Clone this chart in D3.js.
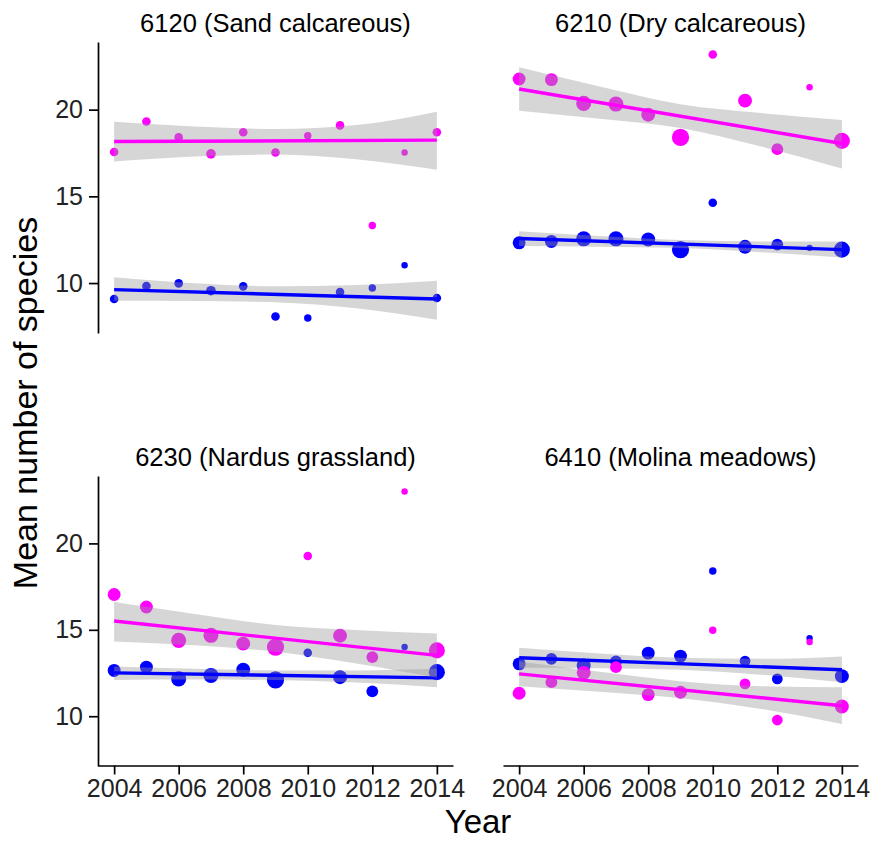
<!DOCTYPE html>
<html>
<head>
<meta charset="utf-8">
<script src="https://cdn.jsdelivr.net/npm/d3@7"></script>
<style>
body { margin: 0; background: #fff; }
text { font-family: "Liberation Sans", Arial, sans-serif; }
</style>
</head>
<body>
<svg id="chart" width="870" height="842"></svg>
<script>
// data
var years = [2004, 2005, 2006, 2007, 2008, 2009, 2010, 2011, 2012, 2013, 2014];
var xTicks = [2004, 2006, 2008, 2010, 2012, 2014];
var yTicks = [10, 15, 20];
var habitats = ["6120 (Sand calcareous)", "6210 (Dry calcareous)", "6230 (Nardus grassland)", "6410 (Molina meadows)"];

// number of plots per year (point size)
var plots6120 = [16, 16, 16, 20, 16, 16, 12, 16, 12, 9, 16];
var plots6210 = [36, 36, 49, 49, 42, 64, 16, 42, 30, 9, 56];
var plots6230 = [36, 36, 49, 49, 42, 64, 16, 42, 30, 9, 56];
var plots6410 = [36, 30, 42, 30, 36, 36, 12, 25, 25, 9, 42];

// mean number of species
var pink6120 = [17.56, 19.32, 18.40, 17.45, 18.70, 17.53, 18.49, 19.09, 13.32, 17.53, 18.70];
var blue6120 = [9.08, 9.83, 9.98, 9.56, 9.81, 8.07, 7.98, 9.48, 9.71, 11.03, 9.14];
var pink6210 = [21.77, 21.73, 20.36, 20.32, 19.71, 18.40, 23.18, 20.52, 17.72, 21.29, 18.20];
var blue6210 = [12.32, 12.40, 12.55, 12.55, 12.51, 11.93, 14.63, 12.09, 12.22, 12.03, 11.93];
var pink6230 = [17.04, 16.32, 14.39, 14.68, 14.20, 14.00, 19.27, 14.66, 13.42, 23.00, 13.81];
var blue6230 = [12.65, 12.84, 12.16, 12.36, 12.69, 12.10, 13.67, 12.26, 11.44, 14.00, 12.55];
var pink6410 = [11.33, 11.97, 12.51, 12.84, 11.25, 11.39, 14.97, 11.87, 9.78, 14.29, 10.56];
var blue6410 = [13.03, 13.32, 12.94, 13.17, 13.65, 13.48, 18.40, 13.19, 12.16, 14.52, 12.32];

// fitted trend (2004 and 2014) and its confidence band
var fitYears = [2004, 2006.5, 2009, 2011.5, 2014];
var pinkFit6120 = [18.16, 18.24];
var pinkLo6120 = [17.01, 17.30, 17.41, 17.14, 16.54];
var pinkHi6120 = [19.30, 19.03, 18.88, 19.11, 19.88];
var blueFit6120 = [9.62, 9.08];
var blueLo6120 = [8.98, 8.96, 8.89, 8.54, 7.88];
var blueHi6120 = [10.33, 9.99, 9.81, 9.89, 10.14];

var pinkFit6210 = [21.19, 18.05];
var pinkLo6210 = [19.94, 19.47, 18.94, 17.87, 16.60];
var pinkHi6210 = [22.45, 21.33, 20.31, 19.80, 19.40];
var blueFit6210 = [12.57, 11.93];
var blueLo6210 = [12.14, 12.10, 12.02, 11.78, 11.47];
var blueHi6210 = [12.99, 12.71, 12.48, 12.40, 12.40];

var pinkFit6230 = [15.51, 13.52];
var pinkLo6230 = [14.33, 14.10, 13.73, 13.05, 12.22];
var pinkHi6230 = [16.61, 15.92, 15.28, 14.99, 14.78];
var blueFit6230 = [12.51, 12.22];
var blueLo6230 = [12.10, 12.12, 12.09, 11.95, 11.68];
var blueHi6230 = [12.88, 12.74, 12.65, 12.65, 12.74];

var pinkFit6410 = [12.45, 10.61];
var pinkLo6410 = [11.74, 11.41, 11.04, 10.42, 9.55];
var pinkHi6410 = [13.17, 12.57, 12.03, 11.74, 11.68];
var blueFit6410 = [13.38, 12.69];
var blueLo6410 = [12.80, 12.78, 12.69, 12.40, 11.97];
var blueHi6410 = [13.96, 13.63, 13.38, 13.32, 13.46];

var PINK = "#ff00ff", BLUE = "#0000ff";

var panels = [
  {title: habitats[0], col: 0, row: 0, plots: plots6120, series: [
    {color: BLUE, values: blue6120, fit: blueFit6120, lo: blueLo6120, hi: blueHi6120},
    {color: PINK, values: pink6120, fit: pinkFit6120, lo: pinkLo6120, hi: pinkHi6120}]},
  {title: habitats[1], col: 1, row: 0, plots: plots6210, series: [
    {color: BLUE, values: blue6210, fit: blueFit6210, lo: blueLo6210, hi: blueHi6210},
    {color: PINK, values: pink6210, fit: pinkFit6210, lo: pinkLo6210, hi: pinkHi6210}]},
  {title: habitats[2], col: 0, row: 1, plots: plots6230, series: [
    {color: BLUE, values: blue6230, fit: blueFit6230, lo: blueLo6230, hi: blueHi6230},
    {color: PINK, values: pink6230, fit: pinkFit6230, lo: pinkLo6230, hi: pinkHi6230}]},
  {title: habitats[3], col: 1, row: 1, plots: plots6410, series: [
    {color: BLUE, values: blue6410, fit: blueFit6410, lo: blueLo6410, hi: blueHi6410},
    {color: PINK, values: pink6410, fit: pinkFit6410, lo: pinkLo6410, hi: pinkHi6410}]}
];

var colRange = [[98, 453], [503, 858]];
var rowRange = [[42, 333], [476, 766]];

var svg = d3.select("#chart");
var r = d3.scaleSqrt().domain([0, 64]).range([0, 8.6]);

panels.forEach(function (p) {
  var x = d3.scaleLinear().domain([2003.5, 2014.5]).range(colRange[p.col]);
  var y = d3.scaleLinear().domain([7.12, 23.9]).range([rowRange[p.row][1], rowRange[p.row][0]]);
  var g = svg.append("g");

  p.series.forEach(function (s) {
    // points first, then band and line on top (like geom_point + geom_smooth)
    g.selectAll(null)
      .data(s.values)
      .enter().append("circle")
      .attr("cx", function (d, i) { return x(years[i]); })
      .attr("cy", function (d) { return y(d); })
      .attr("r", function (d, i) { return r(p.plots[i]); })
      .style("fill", s.color);

    var band = fitYears.map(function (yr, i) { return {yr: yr, lo: s.lo[i], hi: s.hi[i]}; });
    g.append("path")
      .datum(band)
      .attr("d", d3.area()
        .x(function (d) { return x(d.yr); })
        .y0(function (d) { return y(d.lo); })
        .y1(function (d) { return y(d.hi); })
        .curve(d3.curveMonotoneX))
      .style("fill", "#999999")
      .style("fill-opacity", 0.4);

    g.append("path")
      .datum([[2004, s.fit[0]], [2014, s.fit[1]]])
      .attr("d", d3.line()
        .x(function (d) { return x(d[0]); })
        .y(function (d) { return y(d[1]); }))
      .style("fill", "none")
      .style("stroke", s.color)
      .style("stroke-width", 3.4);
  });

  // strip title
  svg.append("text")
    .attr("x", (colRange[p.col][0] + colRange[p.col][1]) / 2)
    .attr("y", rowRange[p.row][0] - 10)
    .attr("text-anchor", "middle")
    .style("font-size", "25.5px")
    .text(p.title);

  if (p.col == 0) {
    var ya = svg.append("g")
      .attr("transform", "translate(" + colRange[0][0] + ",0)")
      .call(d3.axisLeft(y).tickValues(yTicks).tickSize(9).tickSizeOuter(0).tickPadding(6));
    ya.selectAll("text").style("font-size", "25px").style("font-family", "Liberation Sans, Arial, sans-serif").attr("fill", "#222");
    ya.selectAll("path, line").attr("stroke", "#000").attr("stroke-width", 1.7);
  }
  if (p.row == 1) {
    var xa = svg.append("g")
      .attr("transform", "translate(0," + (rowRange[1][1] - 0.5) + ")")
      .call(d3.axisBottom(x).tickValues(xTicks).tickFormat(d3.format("d")).tickSize(9).tickSizeOuter(0).tickPadding(5));
    xa.selectAll("text").style("font-size", "25px").style("font-family", "Liberation Sans, Arial, sans-serif").attr("fill", "#222");
    xa.selectAll("path, line").attr("stroke", "#000").attr("stroke-width", 1.7);
  }
});

// axis titles
svg.append("text")
  .attr("transform", "translate(37,403) rotate(-90)")
  .attr("text-anchor", "middle")
  .style("font-size", "34px")
  .text("Mean number of species");

svg.append("text")
  .attr("x", 478)
  .attr("y", 833)
  .attr("text-anchor", "middle")
  .style("font-size", "33px")
  .text("Year");
</script>
</body>
</html>
